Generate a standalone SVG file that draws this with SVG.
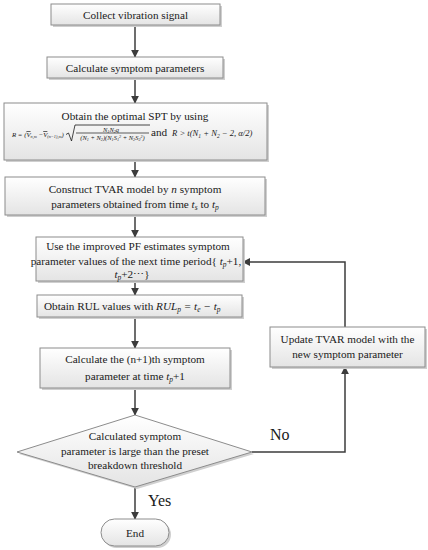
<svg xmlns="http://www.w3.org/2000/svg" width="428" height="550" viewBox="0 0 428 550">
<defs>
<linearGradient id="g" x1="0" y1="0" x2="0" y2="1">
<stop offset="0" stop-color="#ffffff"/>
<stop offset="1" stop-color="#e4e4e4"/>
</linearGradient>
<marker id="ah" viewBox="0 0 10 10" refX="9" refY="5" markerWidth="8" markerHeight="8" markerUnits="userSpaceOnUse" orient="auto">
<path d="M0,0 L10,5 L0,10 z" fill="#3c3c3c"/>
</marker>
<style>
.box{fill:url(#g);stroke:#8c8c8c;stroke-width:1}
.sh{fill:#cfcfcf}
.t{font-family:"Liberation Serif","Times New Roman",serif;font-size:11.2px;fill:#1a1a1a}
.c{text-anchor:middle}
.i{font-style:italic}
.f{font-family:"Liberation Serif","Times New Roman",serif;font-style:italic;fill:#1a1a1a}
.ln{fill:none;stroke:#3c3c3c;stroke-width:1.5}
.lbl{font-family:"Liberation Serif","Times New Roman",serif;font-size:16px;fill:#1a1a1a}
</style>
</defs>
<rect width="428" height="550" fill="#ffffff"/>

<g id="connectors">
<line class="ln" x1="135" y1="25" x2="135" y2="57" marker-end="url(#ah)"/>
<line class="ln" x1="135" y1="78" x2="135" y2="103" marker-end="url(#ah)"/>
<line class="ln" x1="135" y1="160" x2="135" y2="177" marker-end="url(#ah)"/>
<line class="ln" x1="135" y1="215" x2="135" y2="237" marker-end="url(#ah)"/>
<line class="ln" x1="135" y1="281" x2="135" y2="295" marker-end="url(#ah)"/>
<line class="ln" x1="135" y1="317" x2="135" y2="348" marker-end="url(#ah)"/>
<line class="ln" x1="135" y1="388" x2="135" y2="415" marker-end="url(#ah)"/>
<line class="ln" x1="135" y1="487" x2="135" y2="519" marker-end="url(#ah)"/>
<polyline class="ln" points="252,452 345,452 345,367" marker-end="url(#ah)"/>
<polyline class="ln" points="345,327 345,262 243,262" marker-end="url(#ah)"/>
<text class="lbl" x="270" y="440">No</text>
<text class="lbl" x="148" y="506">Yes</text>
</g>

<g id="n1">
<rect class="sh" x="53" y="6" width="169" height="21"/>
<rect class="box" x="51" y="4" width="169" height="21"/>
<text class="t c" x="135.5" y="18.5">Collect vibration signal</text>
</g>

<g id="n2">
<rect class="sh" x="49" y="59" width="176" height="21"/>
<rect class="box" x="47" y="57" width="176" height="21"/>
<text class="t c" x="135" y="72">Calculate symptom parameters</text>
</g>

<g id="n3">
<rect class="sh" x="6" y="105" width="263" height="57"/>
<rect class="box" x="4" y="103" width="263" height="57"/>
<text class="t c" x="135" y="120">Obtain the optimal SPT by using</text>
<text class="f" x="12" y="137" font-size="6.8">R = (<tspan text-decoration="overline">V</tspan><tspan font-size="4.3" dy="1">n,m</tspan><tspan dy="-1"> −</tspan><tspan text-decoration="overline">V</tspan><tspan font-size="4.3" dy="1">(n−1),m</tspan><tspan dy="-1">)</tspan></text>
<path d="M66,134.5 L68.5,133 L71.5,141 L75,125 L150,125" fill="none" stroke="#1a1a1a" stroke-width="0.8"/>
<line x1="76" y1="133" x2="149" y2="133" stroke="#1a1a1a" stroke-width="0.7"/>
<text class="f" x="111" y="131.5" font-size="6.5" text-anchor="middle">N<tspan font-size="4.2" dy="1">1</tspan><tspan dy="-1">N</tspan><tspan font-size="4.2" dy="1">2</tspan><tspan dy="-1">q</tspan></text>
<text class="f" x="112.5" y="140" font-size="6.5" text-anchor="middle">(N<tspan font-size="4.2" dy="1">1</tspan><tspan dy="-1"> + N</tspan><tspan font-size="4.2" dy="1">2</tspan><tspan dy="-1">)(N</tspan><tspan font-size="4.2" dy="1">1</tspan><tspan dy="-1">S</tspan><tspan font-size="4.2" dy="1">1</tspan><tspan font-size="4.2" dy="-3.5">2</tspan><tspan dy="2.5"> + N</tspan><tspan font-size="4.2" dy="1">2</tspan><tspan dy="-1">S</tspan><tspan font-size="4.2" dy="1">2</tspan><tspan font-size="4.2" dy="-3.5">2</tspan><tspan dy="2.5">)</tspan></text>
<text class="t" x="151" y="136">and</text>
<text class="f" x="172" y="136" font-size="8.6">R &gt; t(N<tspan font-size="5.5" dy="1.5">1</tspan><tspan dy="-1.5"> + N</tspan><tspan font-size="5.5" dy="1.5">2</tspan><tspan dy="-1.5"> − 2,    α/2)</tspan></text>
</g>

<g id="n4">
<rect class="sh" x="7" y="179" width="260" height="38"/>
<rect class="box" x="5" y="177" width="260" height="38"/>
<text class="t c" x="135" y="193">Construct TVAR model by <tspan class="i">n</tspan> symptom</text>
<text class="t c" x="135" y="208">parameters obtained from  time <tspan class="i">t</tspan><tspan class="i" font-size="7.5" dy="2">s</tspan><tspan dy="-2"> to </tspan><tspan class="i">t</tspan><tspan class="i" font-size="7.5" dy="2">p</tspan></text>
</g>

<g id="n5">
<rect class="sh" x="38" y="239" width="207" height="44"/>
<rect class="box" x="36" y="237" width="207" height="44"/>
<text class="t c" x="138" y="250">Use the improved PF estimates symptom</text>
<text class="t c" x="136" y="264.5">parameter values of the next time period{ <tspan class="i">t</tspan><tspan class="i" font-size="7.5" dy="2">p</tspan><tspan dy="-2">+1,</tspan></text>
<text class="t c" x="132" y="278"><tspan class="i">t</tspan><tspan class="i" font-size="7.5" dy="2">p</tspan><tspan dy="-2">+2⋯}</tspan></text>
</g>

<g id="n6">
<rect class="sh" x="39" y="297" width="205" height="22"/>
<rect class="box" x="37" y="295" width="205" height="22"/>
<text class="t" x="44" y="310">Obtain RUL values with  <tspan class="i">RUL</tspan><tspan class="i" font-size="7.5" dy="2">p</tspan><tspan class="i" dy="-2"> = t</tspan><tspan class="i" font-size="7.5" dy="2">e</tspan><tspan class="i" dy="-2"> − t</tspan><tspan class="i" font-size="7.5" dy="2">p</tspan></text>
</g>

<g id="n7">
<rect class="sh" x="42" y="350" width="190" height="40"/>
<rect class="box" x="40" y="348" width="190" height="40"/>
<text class="t c" x="135" y="363">Calculate the (n+1)th symptom</text>
<text class="t c" x="135" y="380">parameter at time <tspan class="i">t</tspan><tspan class="i" font-size="7.5" dy="2">p</tspan><tspan dy="-2">+1</tspan></text>
</g>

<g id="n8">
<rect class="sh" x="272" y="329" width="155" height="40"/>
<rect class="box" x="270" y="327" width="155" height="40"/>
<text class="t c" x="347.5" y="343">Update TVAR model with the</text>
<text class="t c" x="347.5" y="358">new symptom parameter</text>
</g>

<g id="n9">
<polygon points="137,417 254,454 137,489 19,454" fill="#d0d0d0"/>
<polygon class="box" points="135,415 252,452 135,487 17,452"/>
<text class="t c" x="135" y="440">Calculated symptom</text>
<text class="t c" x="135" y="455">parameter is large than the preset</text>
<text class="t c" x="135" y="468.5">breakdown threshold</text>
</g>

<g id="n10">
<rect class="sh" x="103" y="521" width="68" height="27" rx="13.5"/>
<rect class="box" x="101" y="519" width="68" height="27" rx="13.5"/>
<text class="t c" x="135" y="537" font-size="12">End</text>
</g>
</svg>
